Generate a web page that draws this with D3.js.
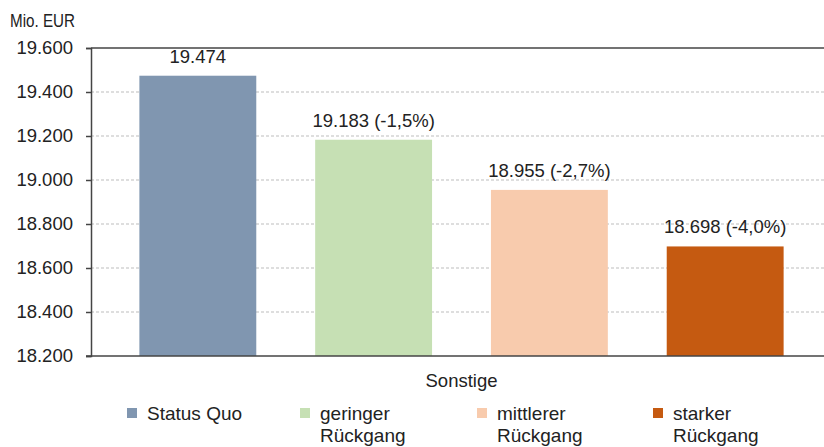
<!DOCTYPE html>
<html><head><meta charset="utf-8">
<script src="https://cdn.jsdelivr.net/npm/d3@7"></script>
<style>body{margin:0;background:#fff}svg{display:block}</style>
</head><body>
<svg id="chart" width="824" height="447"></svg>
<script>
const category = "Sonstige";
const seriesNames = ["Status Quo", "geringer Rückgang", "mittlerer Rückgang", "starker Rückgang"];
const legendLines = [["Status Quo"], ["geringer", "Rückgang"], ["mittlerer", "Rückgang"], ["starker", "Rückgang"]];
const values = [19474, 19183, 18955, 18698];
const valueLabels = ["19.474", "19.183 (-1,5%)", "18.955 (-2,7%)", "18.698 (-4,0%)"];
const colors = ["#8096b0", "#c6e0b4", "#f8cbad", "#c55a11"];
const yTicks = [18200, 18400, 18600, 18800, 19000, 19200, 19400, 19600];
const tickLabels = ["18.200", "18.400", "18.600", "18.800", "19.000", "19.200", "19.400", "19.600"];

(function () {
const svg = d3.select("#chart");
const mLeft = 91, mRight = 832, mTop = 48, mBottom = 356;
const font = "'Liberation Sans', Arial, sans-serif";

const y = d3.scaleLinear().domain([18200, 19600]).range([mBottom, mTop]);
const x = d3.scaleBand().domain(seriesNames).range([109.5, 813.5]).paddingInner(0.335).paddingOuter(0.17);

// gridlines
svg.append("g").selectAll("line").data(yTicks.slice(1, -1)).join("line")
  .attr("x1", mLeft).attr("x2", mRight)
  .attr("y1", d => y(d)).attr("y2", d => y(d))
  .attr("stroke", "#bdbdbd").attr("stroke-width", 1).attr("stroke-dasharray", "3,2");

// top border
svg.append("line").attr("x1", mLeft).attr("x2", mRight).attr("y1", y(19600)).attr("y2", y(19600))
  .attr("stroke", "#444").attr("stroke-width", 1.5);

// bars
svg.append("g").selectAll("rect").data(values).join("rect")
  .attr("x", (d, i) => x(seriesNames[i]))
  .attr("width", x.bandwidth())
  .attr("y", d => y(d))
  .attr("height", d => mBottom - y(d))
  .attr("fill", (d, i) => colors[i]);

// value labels
svg.append("g").selectAll("text").data(values).join("text")
  .attr("x", (d, i) => x(seriesNames[i]) + x.bandwidth() / 2)
  .attr("y", d => y(d) - 13)
  .attr("text-anchor", "middle")
  .attr("font-family", font).attr("font-size", 18.5).attr("fill", "#222")
  .text((d, i) => valueLabels[i]);

// y axis
const yAxis = d3.axisLeft(y).tickValues(yTicks).tickFormat((d, i) => tickLabels[i]).tickSize(5).tickPadding(13);
const gy = svg.append("g").attr("transform", `translate(${mLeft},0)`).call(yAxis);
gy.select(".domain").attr("stroke", "#444").attr("stroke-width", 1.5);
gy.selectAll(".tick line").attr("stroke", "#444").attr("stroke-width", 1.5);
gy.selectAll("text").attr("font-family", font).attr("font-size", 18.5).attr("fill", "#222");

// bottom axis line
svg.append("line").attr("x1", mLeft - 5).attr("x2", mRight).attr("y1", mBottom).attr("y2", mBottom)
  .attr("stroke", "#444").attr("stroke-width", 1.5);

// unit label
svg.append("text").attr("x", 10).attr("y", 27).attr("font-family", font).attr("font-size", 17.5)
  .attr("textLength", 65).attr("lengthAdjust", "spacingAndGlyphs").attr("fill", "#222").text("Mio. EUR");

// category label
svg.append("text").attr("x", (mLeft + mRight) / 2).attr("y", 387).attr("text-anchor", "middle")
  .attr("font-family", font).attr("font-size", 18.5).attr("fill", "#222").text(category);

// legend
const legendX = [147, 320, 497, 673];
const lg = svg.append("g").selectAll("g").data(seriesNames).join("g")
  .attr("transform", (d, i) => `translate(${legendX[i]},0)`);
lg.append("rect").attr("x", -20).attr("y", 408).attr("width", 10).attr("height", 10).attr("fill", (d, i) => colors[i]);
lg.append("text").attr("x", 0).attr("y", 420).attr("font-family", font).attr("font-size", 19).attr("fill", "#222")
  .selectAll("tspan").data((d, i) => legendLines[i]).join("tspan")
  .attr("x", 0).attr("dy", (d, j) => j === 0 ? 0 : 22).text(d => d);
})();
</script>
</body></html>
